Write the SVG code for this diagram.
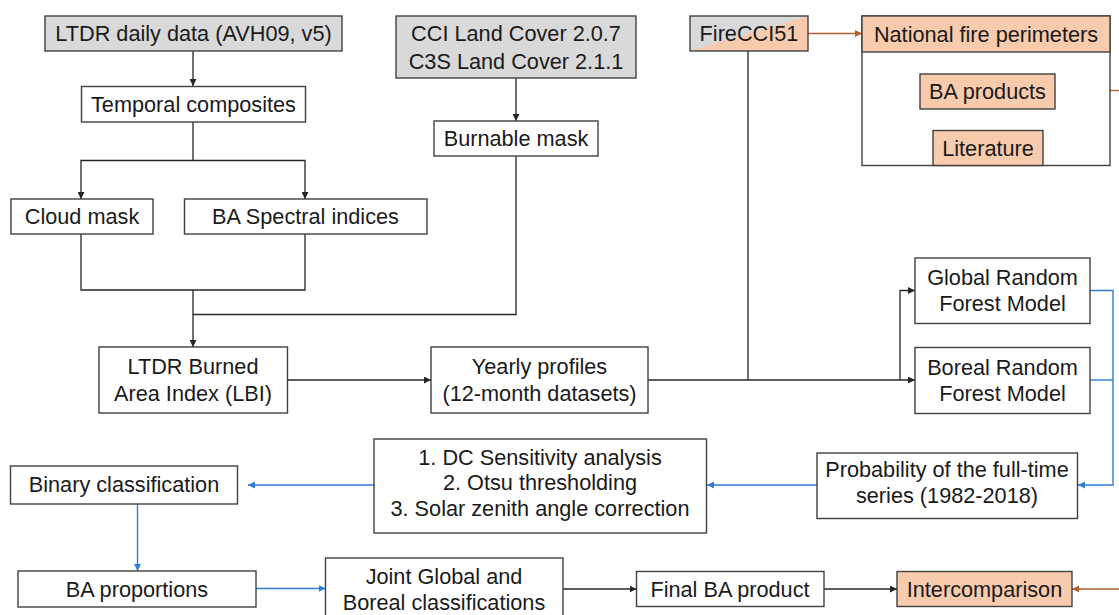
<svg xmlns="http://www.w3.org/2000/svg" width="1119" height="615" viewBox="0 0 1119 615">
<defs>
<style>
.box{fill:#ffffff;stroke:#404040;stroke-width:1.4}
.grey{fill:#d9d9d9;stroke:#404040;stroke-width:1.4}
.peach{fill:#f8cbad;stroke:#404040;stroke-width:1.4}
.t{font-family:"Liberation Sans",Arial,sans-serif;font-size:21.7px;fill:#1a1a1a;text-anchor:middle}
.k{fill:none;stroke:#262626;stroke-width:1.3}
.b{fill:none;stroke:#2e7fd1;stroke-width:1.4}
.o{fill:none;stroke:#b5602c;stroke-width:1.4}
</style>
<marker id="ak" viewBox="0 0 8 8" refX="8" refY="4" markerWidth="7" markerHeight="7" markerUnits="userSpaceOnUse" orient="auto"><path d="M0,0 L8,4 L0,8 z" fill="#262626"/></marker>
<marker id="ab" viewBox="0 0 8 8" refX="8" refY="4" markerWidth="7" markerHeight="7" markerUnits="userSpaceOnUse" orient="auto"><path d="M0,0 L8,4 L0,8 z" fill="#2e7fd1"/></marker>
<marker id="ao" viewBox="0 0 8 8" refX="8" refY="4" markerWidth="7" markerHeight="7" markerUnits="userSpaceOnUse" orient="auto"><path d="M0,0 L8,4 L0,8 z" fill="#b5602c"/></marker>
</defs>
<rect width="1119" height="615" fill="#ffffff"/>

<g id="connectors">
<path class="k" d="M193,51 V86" marker-end="url(#ak)"/>
<path class="k" d="M193,122 V160.5"/>
<path class="k" d="M193,160.5 H81 V199" marker-end="url(#ak)"/>
<path class="k" d="M193,160.5 H305 V199" marker-end="url(#ak)"/>
<path class="k" d="M81,234 V290 H305 V234"/>
<path class="k" d="M193,290 V347" marker-end="url(#ak)"/>
<path class="k" d="M516,78 V121" marker-end="url(#ak)"/>
<path class="k" d="M516,156 V314.5 H193"/>
<path class="k" d="M287.5,380 H431" marker-end="url(#ak)"/>
<path class="k" d="M648,380 H915" marker-end="url(#ak)"/>
<path class="k" d="M900,380 V290.5 H915" marker-end="url(#ak)"/>
<path class="k" d="M748,51 V380"/>
<path class="o" d="M808,33.5 H862" marker-end="url(#ao)"/>
<path class="o" d="M1110,90.5 H1119"/>
<path class="o" d="M1119,589 H1072" marker-end="url(#ao)"/>
<path class="b" d="M1090,290.5 H1113 V485 H1078" marker-end="url(#ab)"/>
<path class="b" d="M1090,380 H1113"/>
<path class="b" d="M817,485 H707" marker-end="url(#ab)"/>
<path class="b" d="M374,485 H248" marker-end="url(#ab)"/>
<path class="b" d="M137.5,504 V571" marker-end="url(#ab)"/>
<path class="b" d="M256,588.5 H325.5" marker-end="url(#ab)"/>
<path class="k" d="M563,589 H636.5" marker-end="url(#ak)"/>
<path class="k" d="M824,589 H897" marker-end="url(#ak)"/>
</g>

<g id="ltdr-daily"><rect class="grey" x="45" y="16" width="297" height="35"/><text class="t" x="193.5" y="41">LTDR daily data (AVH09, v5)</text></g>
<g id="cci-landcover"><rect class="grey" x="396" y="16" width="240" height="62"/><text class="t" x="516" y="40.5">CCI Land Cover 2.0.7</text><text class="t" x="516" y="68.5">C3S Land Cover 2.1.1</text></g>
<g id="firecci51"><rect x="690" y="16" width="118" height="35" fill="#d9d9d9"/><polygon points="690,51 808,16 808,51" fill="#f8cbad"/><rect x="690" y="16" width="118" height="35" fill="none" stroke="#404040" stroke-width="1.4"/><text class="t" x="749" y="41">FireCCI51</text></g>
<g id="reference-data"><rect class="box" x="862" y="16" width="248" height="149.5"/><rect class="peach" x="862" y="16" width="248" height="36"/><text class="t" x="986" y="41.5">National fire perimeters</text></g>
<g id="ba-products"><rect class="peach" x="920" y="74" width="135" height="35"/><text class="t" x="987.5" y="99">BA products</text></g>
<g id="literature"><rect class="peach" x="933" y="130.5" width="110" height="35"/><text class="t" x="988" y="155.5">Literature</text></g>
<g id="temporal-composites"><rect class="box" x="81.5" y="86.5" width="224" height="35.5"/><text class="t" x="193.5" y="111.5">Temporal composites</text></g>
<g id="burnable-mask"><rect class="box" x="434" y="121" width="164" height="35"/><text class="t" x="516" y="146">Burnable mask</text></g>
<g id="cloud-mask"><rect class="box" x="11" y="199" width="142" height="35"/><text class="t" x="82" y="224">Cloud mask</text></g>
<g id="ba-spectral"><rect class="box" x="184.5" y="199" width="242.5" height="35"/><text class="t" x="305.5" y="224">BA Spectral indices</text></g>
<g id="lbi"><rect class="box" x="99" y="347" width="188.5" height="66"/><text class="t" x="193" y="374">LTDR Burned</text><text class="t" x="193" y="401">Area Index (LBI)</text></g>
<g id="yearly-profiles"><rect class="box" x="431" y="347" width="217" height="66"/><text class="t" x="539.5" y="374">Yearly profiles</text><text class="t" x="539.5" y="401">(12-month datasets)</text></g>
<g id="global-rf"><rect class="box" x="915" y="258" width="175" height="65.5"/><text class="t" x="1002.5" y="285">Global Random</text><text class="t" x="1002.5" y="311">Forest Model</text></g>
<g id="boreal-rf"><rect class="box" x="915" y="347.5" width="175" height="66"/><text class="t" x="1002.5" y="374.5">Boreal Random</text><text class="t" x="1002.5" y="400.5">Forest Model</text></g>
<g id="probability"><rect class="box" x="817" y="453" width="260.5" height="65.5"/><text class="t" x="947" y="477">Probability of the full-time</text><text class="t" x="947" y="503">series (1982-2018)</text></g>
<g id="thresholding"><rect class="box" x="374" y="439" width="332.5" height="94"/><text class="t" x="540" y="464.5">1. DC Sensitivity analysis</text><text class="t" x="540" y="490">2. Otsu thresholding</text><text class="t" x="540" y="515.5">3. Solar zenith angle correction</text></g>
<g id="binary-classification"><rect class="box" x="10.5" y="466" width="227" height="38"/><text class="t" x="124" y="492">Binary classification</text></g>
<g id="ba-proportions"><rect class="box" x="18" y="571" width="238" height="36"/><text class="t" x="137" y="596.5">BA proportions</text></g>
<g id="joint"><rect class="box" x="325.5" y="558" width="237.5" height="64"/><text class="t" x="444" y="584">Joint Global and</text><text class="t" x="444" y="610">Boreal classifications</text></g>
<g id="final-ba"><rect class="box" x="636.5" y="571.5" width="187.5" height="35"/><text class="t" x="730" y="596.5">Final BA product</text></g>
<g id="intercomparison"><rect class="peach" x="897" y="571.5" width="175" height="35"/><text class="t" x="984.5" y="596.5">Intercomparison</text></g>
</svg>
